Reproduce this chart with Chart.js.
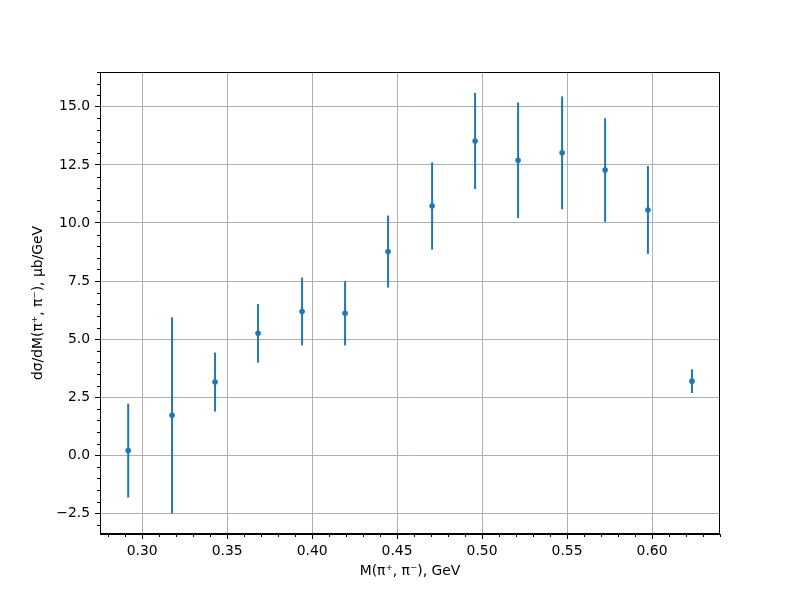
<!DOCTYPE html>
<html>
<head>
<meta charset="utf-8">
<script src="https://cdn.jsdelivr.net/npm/chart.js@4"></script>
<style>
  body { margin: 0; background: #fff; }
  #wrap { width: 800px; height: 600px; }
</style>
</head>
<body>
<div id="wrap"><canvas id="grafico" width="800" height="600"></canvas></div>
<script>
// dados
const massas = [0.2918, 0.3176, 0.3429, 0.3682, 0.3941, 0.4194, 0.4447, 0.4706, 0.4959, 0.5212, 0.5471, 0.5724, 0.5976, 0.6235];
const secoes = [0.20, 1.72, 3.15, 5.25, 6.19, 6.11, 8.77, 10.73, 13.53, 12.70, 13.02, 12.28, 10.56, 3.19];
const erros = [2.02, 4.22, 1.27, 1.26, 1.46, 1.38, 1.55, 1.88, 2.07, 2.49, 2.43, 2.23, 1.89, 0.51];
const ticksX = [0.30, 0.35, 0.40, 0.45, 0.50, 0.55, 0.60];
const ticksY = [-2.5, 0.0, 2.5, 5.0, 7.5, 10.0, 12.5, 15.0];
const minorX = [0.28, 0.29, 0.31, 0.32, 0.33, 0.34, 0.36, 0.37, 0.38, 0.39, 0.41, 0.42, 0.43, 0.44, 0.46, 0.47, 0.48, 0.49, 0.51, 0.52, 0.53, 0.54, 0.56, 0.57, 0.58, 0.59, 0.61, 0.62, 0.63, 0.64];
const minorY = [-3.0, -2.0, -1.5, -1.0, -0.5, 0.5, 1.0, 1.5, 2.0, 3.0, 3.5, 4.0, 4.5, 5.5, 6.0, 6.5, 7.0, 8.0, 8.5, 9.0, 9.5, 10.5, 11.0, 11.5, 12.0, 13.0, 13.5, 14.0, 14.5, 15.5, 16.0, 16.5];

const azul = '#1f77b4';
const fonte = { family: 'DejaVu Sans', size: 13.9 };

// barras de erro desenhadas pelas escalas do Chart.js
const barrasErro = {
    id: 'barrasErro',
    beforeDatasetsDraw(chart) {
        const ctx = chart.ctx;
        const sx = chart.scales.x, sy = chart.scales.y;
        ctx.save();
        ctx.strokeStyle = azul;
        ctx.lineWidth = 2;
        massas.forEach(function(m, i) {
            const px = sx.getPixelForValue(m);
            ctx.beginPath();
            ctx.moveTo(px, sy.getPixelForValue(secoes[i] + erros[i]));
            ctx.lineTo(px, sy.getPixelForValue(secoes[i] - erros[i]));
            ctx.stroke();
        });
        ctx.restore();
    }
};

// moldura e ticks menores
const moldura = {
    id: 'moldura',
    afterDraw(chart) {
        const ctx = chart.ctx;
        const a = chart.chartArea;
        const sx = chart.scales.x, sy = chart.scales.y;
        ctx.save();
        ctx.strokeStyle = '#000';
        ctx.lineWidth = 1;
        ctx.strokeRect(a.left + 0.5, a.top + 0.5, a.right - a.left - 1, a.bottom - a.top - 1);
        ctx.beginPath();
        minorX.forEach(function(v) {
            const px = Math.round(sx.getPixelForValue(v)) + 0.5;
            ctx.moveTo(px, a.bottom);
            ctx.lineTo(px, a.bottom + 3);
        });
        minorY.forEach(function(v) {
            const py = Math.round(sy.getPixelForValue(v)) + 0.5;
            ctx.moveTo(a.left, py);
            ctx.lineTo(a.left - 3, py);
        });
        ctx.stroke();
        ctx.restore();
    }
};

new Chart(document.getElementById('grafico').getContext('2d'), {
    type: 'scatter',
    data: {
        datasets: [{
            data: massas.map((m, i) => ({ x: m, y: secoes[i] })),
            backgroundColor: azul,
            borderColor: azul,
            pointRadius: 2.8,
            pointHoverRadius: 2.8,
            borderWidth: 0
        }]
    },
    options: {
        responsive: false,
        animation: false,
        layout: { padding: { top: 72, right: 80, left: 0, bottom: 0 } },
        plugins: {
            legend: { display: false },
            tooltip: { enabled: false }
        },
        scales: {
            x: {
                type: 'linear',
                min: 0.2752,
                max: 0.640,
                afterBuildTicks: (s) => { s.ticks = ticksX.map(v => ({ value: v })); },
                afterFit: (s) => { s.height = 66; },
                ticks: {
                    color: '#000',
                    font: fonte,
                    padding: 4,
                    maxRotation: 0,
                    callback: (v) => v.toFixed(2)
                },
                grid: { color: '#b0b0b0', lineWidth: 1, tickColor: '#000', tickLength: 5 },
                border: { display: true, color: '#000' },
                title: {
                    display: true,
                    text: 'M(π⁺, π⁻), GeV',
                    color: '#000',
                    font: fonte,
                    padding: { top: 0, bottom: 20 }
                }
            },
            y: {
                type: 'linear',
                min: -3.39,
                max: 16.50,
                afterBuildTicks: (s) => { s.ticks = ticksY.map(v => ({ value: v })); },
                afterFit: (s) => { s.width = 100; },
                ticks: {
                    color: '#000',
                    font: fonte,
                    padding: 5,
                    callback: (v) => (v < 0 ? '−' : '') + Math.abs(v).toFixed(1)
                },
                grid: { color: '#b0b0b0', lineWidth: 1, tickColor: '#000', tickLength: 5 },
                border: { display: true, color: '#000' },
                title: {
                    display: true,
                    text: 'dσ/dM(π⁺, π⁻), µb/GeV',
                    color: '#000',
                    font: fonte,
                    padding: { top: 30, bottom: 0 }
                }
            }
        }
    },
    plugins: [barrasErro, moldura]
});
</script>
</body>
</html>
